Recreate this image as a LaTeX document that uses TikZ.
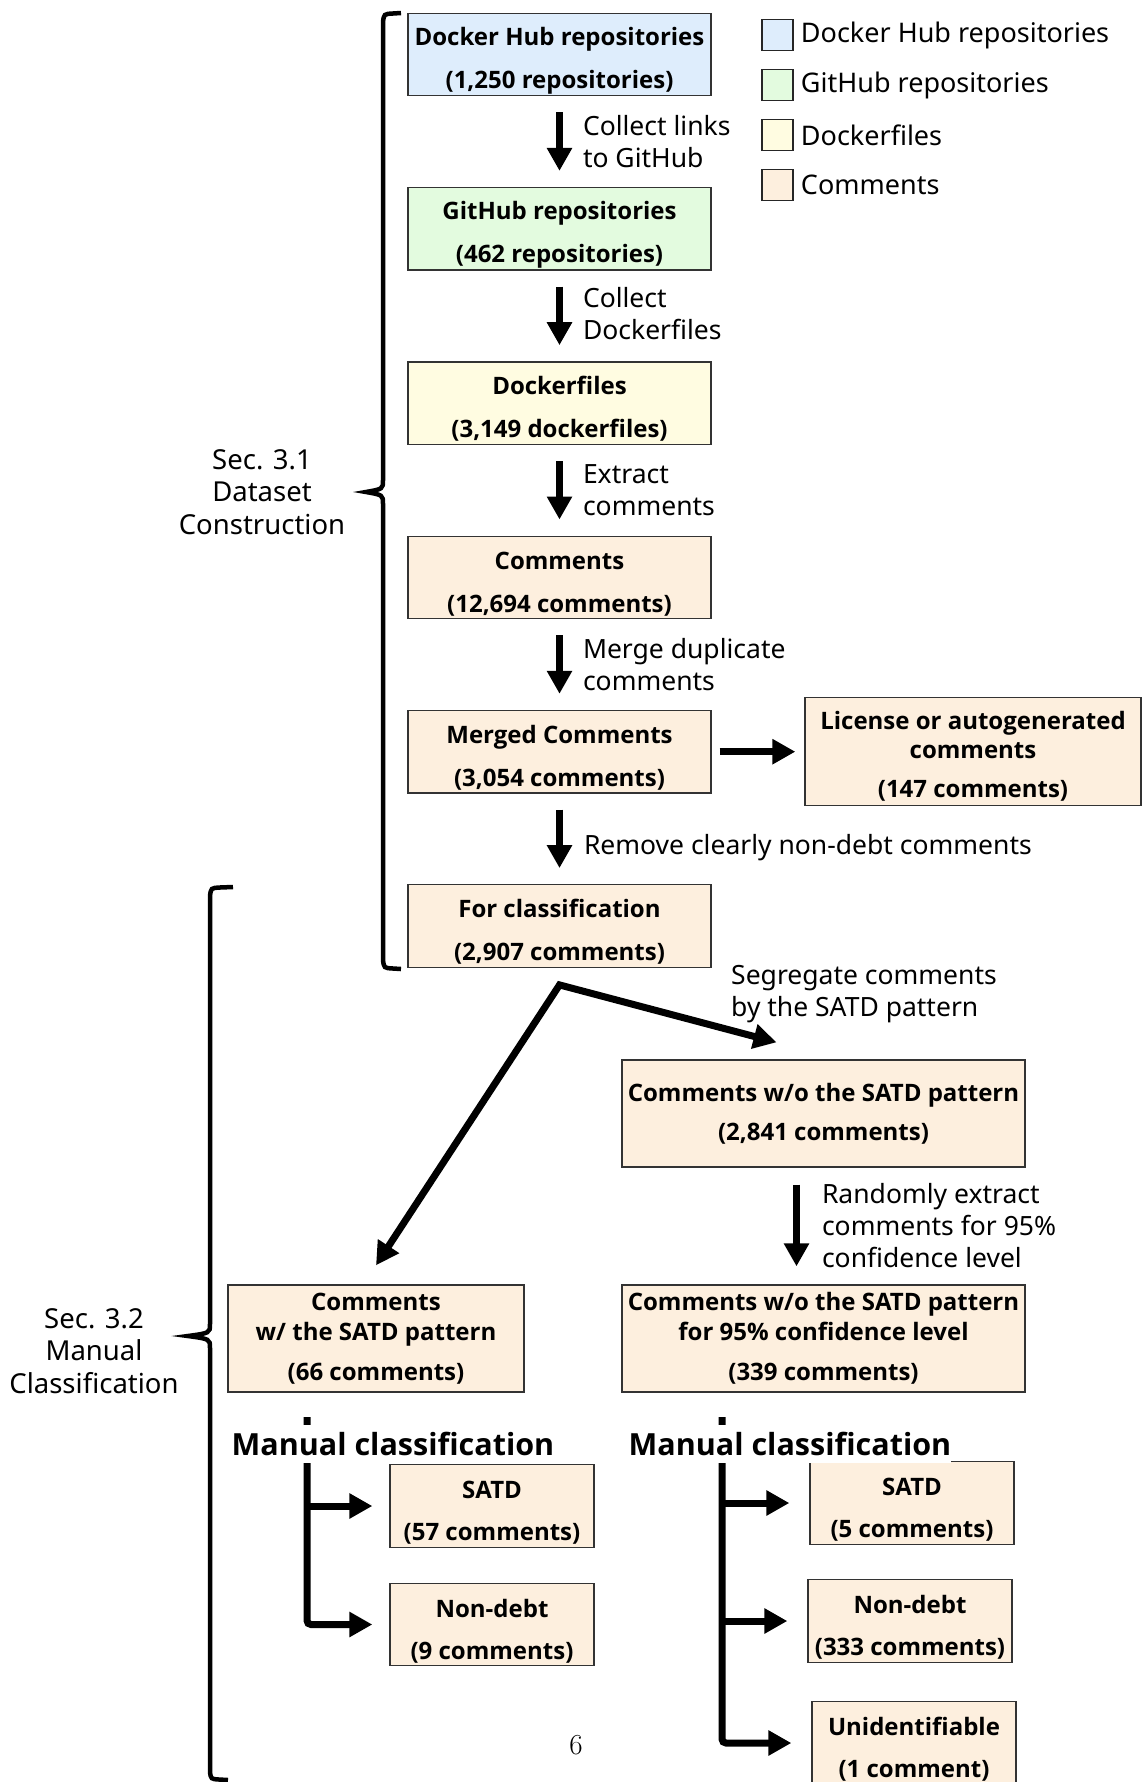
\documentclass[tikz,border=0pt]{standalone}
\usepackage{fontspec}
\newfontfamily\diagfont{Noto Sans}
\newfontfamily\boxfont{Open Sans}
\usetikzlibrary{arrows.meta, positioning, calc}
\definecolor{hubblue}{RGB}{222,237,252}
\definecolor{gitgreen}{RGB}{227,251,223}
\definecolor{fileyellow}{RGB}{255,252,225}
\definecolor{cmtorange}{RGB}{253,239,222}

\begin{document}
\begin{tikzpicture}[
      x=1pt, y=-1pt,
      node distance=90.5pt,
      box/.style={rectangle, draw=black!80, line width=1.3pt, fill=cmtorange,
                  minimum width=303pt, minimum height=82.5pt, inner sep=0pt,
                  font=\boxfont\bfseries\fontsize{24}{29.5}\selectfont, align=center},
      lowtext/.style={execute at begin node={\rule{0pt}{73pt}}},
      lictext/.style={execute at begin node={\rule{0pt}{96pt}}},
      lbl/.style={font=\diagfont\fontsize{26.5}{32}\selectfont, align=left, inner sep=0pt},
      legbox/.style={rectangle, draw=black!85, line width=1.5pt,
                     minimum width=31pt, minimum height=31pt, inner sep=0pt},
      mclass/.style={font=\boxfont\bfseries\fontsize{30.5}{36}\selectfont,
                     inner sep=0pt, minimum height=38pt, fill=white},
      arr/.style={-{Triangle[length=23pt, width=24pt]}, line width=7pt,
                  shorten <=16pt, shorten >=16pt},
      splitarr/.style={{Triangle[length=23pt, width=24pt]}-{Triangle[length=23pt, width=24pt]},
                       line width=7pt, line join=miter},
      bracket/.style={line width=4.5pt}
    ]
    \useasboundingbox (0,0) rectangle (1141,1782);

    \node[box, lowtext, fill=hubblue] (dh) at (559.5,54.5)
      {Docker Hub repositories\\[13.5pt](1,250 repositories)};
    \node[box, lowtext, fill=gitgreen, below=of dh] (gh)
      {GitHub repositories\\[13.5pt](462 repositories)};
    \node[box, lowtext, fill=fileyellow, below=of gh] (df)
      {Dockerfiles\\[13.5pt](3,149 dockerfiles)};
    \node[box, lowtext, below=of df] (cm) {Comments\\[13.5pt](12,694 comments)};
    \node[box, lowtext, below=of cm] (mg) {Merged Comments\\[13.5pt](3,054 comments)};
    \node[box, lowtext, below=of mg] (fc) {For classification\\[13.5pt](2,907 comments)};
    \node[box, lictext, minimum width=336pt, minimum height=108pt, right=92.7pt of mg] (lic)
      {License or autogenerated\\comments\\[9.5pt](147 comments)};

    \draw[arr] (dh) -- node[lbl, right=20pt] {Collect links\\to GitHub} (gh);
    \draw[arr] (gh) -- node[lbl, right=20pt, yshift=2pt] {Collect\\Dockerfiles} (df);
    \draw[arr] (df) -- node[lbl, right=20pt] {Extract\\comments} (cm);
    \draw[arr] (cm) -- node[lbl, right=20pt] {Merge duplicate\\comments} (mg);
    \draw[arr] (mg) -- node[lbl, right=21pt, yshift=-9pt] {Remove clearly non-debt comments} (fc);
    \draw[arr, shorten <=8pt, shorten >=9pt] (mg) -- (lic);

    \node[legbox, fill=hubblue] (leg1) at (777.5,35) {};
    \node[legbox, fill=gitgreen, below=17.5pt of leg1] (leg2) {};
    \node[legbox, fill=fileyellow, below=17.5pt of leg2] (leg3) {};
    \node[legbox, fill=cmtorange, below=17.5pt of leg3] (leg4) {};
    \node[lbl, font=\diagfont\fontsize{27}{32}\selectfont, right=7pt of leg1] (legt1) {Docker Hub repositories};
    \node[lbl, font=\diagfont\fontsize{27}{32}\selectfont, right=7pt of leg2] (legt2) {GitHub repositories};
    \node[lbl, font=\diagfont\fontsize{27}{32}\selectfont, right=7pt of leg3] (legt3) {Dockerfiles};
    \node[lbl, font=\diagfont\fontsize{27}{32}\selectfont, right=7pt of leg4] (legt4) {Comments};

    \node[box, minimum width=403pt, minimum height=107pt] (wo) at (823.5,1113.5)
      {Comments w/o the SATD pattern\\[9.5pt](2,841 comments)};
    \node[box, minimum width=403pt, minimum height=107pt, below=116.7pt of wo] (wo95)
      {Comments w/o the SATD pattern\\for 95\% confidence level\\[10.5pt](339 comments)};
    \node[box, minimum width=296pt, minimum height=107pt, left=96.7pt of wo95] (ws)
      {Comments\\w/ the SATD pattern\\[10.5pt](66 comments)};

    \coordinate (split) at ($(fc.south)+(0,17)$);
    \coordinate (wstip) at ($(ws.north)+(0,-19)$);
    \coordinate (wotip) at ($(wo.north)+(-47,-17)$);
    \draw[splitarr] (wstip) -- (split) -- (wotip);
    \node[lbl, anchor=west] (seglbl) at (731,994) {Segregate comments\\by the SATD pattern};

    \draw[arr, shorten <=17pt, shorten >=18pt] ([xshift=-27pt]wo.south) --
      node[lbl, right=22pt] {Randomly extract\\comments for 95\%\\confidence level}
      ([xshift=-27pt]wo95.north);

    \node[box, lowtext, minimum width=204pt] (satdl) at (492,1506) {SATD\\[12.5pt](57 comments)};
    \node[box, lowtext, minimum width=204pt, below=34.7pt of satdl] (ndl) {Non-debt\\[12.5pt](9 comments)};
    \node[box, lowtext, minimum width=204pt] (satdr) at (912,1503) {SATD\\[12.5pt](5 comments)};
    \node[box, lowtext, minimum width=204pt] (ndr) at (910,1621) {Non-debt\\[12.5pt](333 comments)};
    \node[box, lowtext, minimum width=204pt] (unr) at (914,1743) {Unidentifiable\\[12.5pt](1 comment)};

    \coordinate (treel) at (307,1417);
    \draw[arr, shorten <=0pt, shorten >=17pt, rounded corners=4pt] (treel) |- (ndl.west);
    \draw[arr, shorten <=0pt, shorten >=17pt] (treel |- satdl.west) -- (satdl.west);
    \node[mclass] (mcl) at (393,1443.5) {Manual classification};

    \coordinate (treer) at (722,1417);
    \draw[arr, shorten <=0pt, shorten >=20pt, rounded corners=4pt] (treer) |- (unr.west);
    \draw[arr, shorten <=0pt, shorten >=20pt] (treer |- satdr.west) -- (satdr.west);
    \draw[arr, shorten <=0pt, shorten >=20pt] (treer |- ndr.west) -- (ndr.west);
    \node[mclass] (mcr) at (790,1443.5) {Manual classification};

    \draw[bracket] (401,13) -- (393,13.5) .. controls (384,14) .. (383,22) -- (383,480)
      .. controls (383,489) .. (366,492) .. controls (383,495) .. (383,504) -- (383,960)
      .. controls (384,968) .. (393,968.5) -- (401,969);
    \draw[bracket] (233,887) -- (220,887.5) .. controls (211,888) .. (210,896) -- (210,1324)
      .. controls (210,1333) .. (188,1336) .. controls (210,1339) .. (210,1348) -- (210,1772)
      .. controls (211,1779) .. (219,1779.5) -- (228,1780);
    \node[lbl, font=\diagfont\fontsize{27.5}{32.5}\selectfont, align=center] (sec1) at (262,492)
      {Sec. 3.1\\Dataset\\Construction};
    \node[lbl, font=\diagfont\fontsize{27.5}{32.5}\selectfont, align=center] (sec2) at (94,1351)
      {Sec. 3.2\\Manual\\Classification};

    \node[font=\fontsize{29}{34}\selectfont, inner sep=0pt] (pagenum) at (576,1745) {6};
  \end{tikzpicture}
\end{document}
